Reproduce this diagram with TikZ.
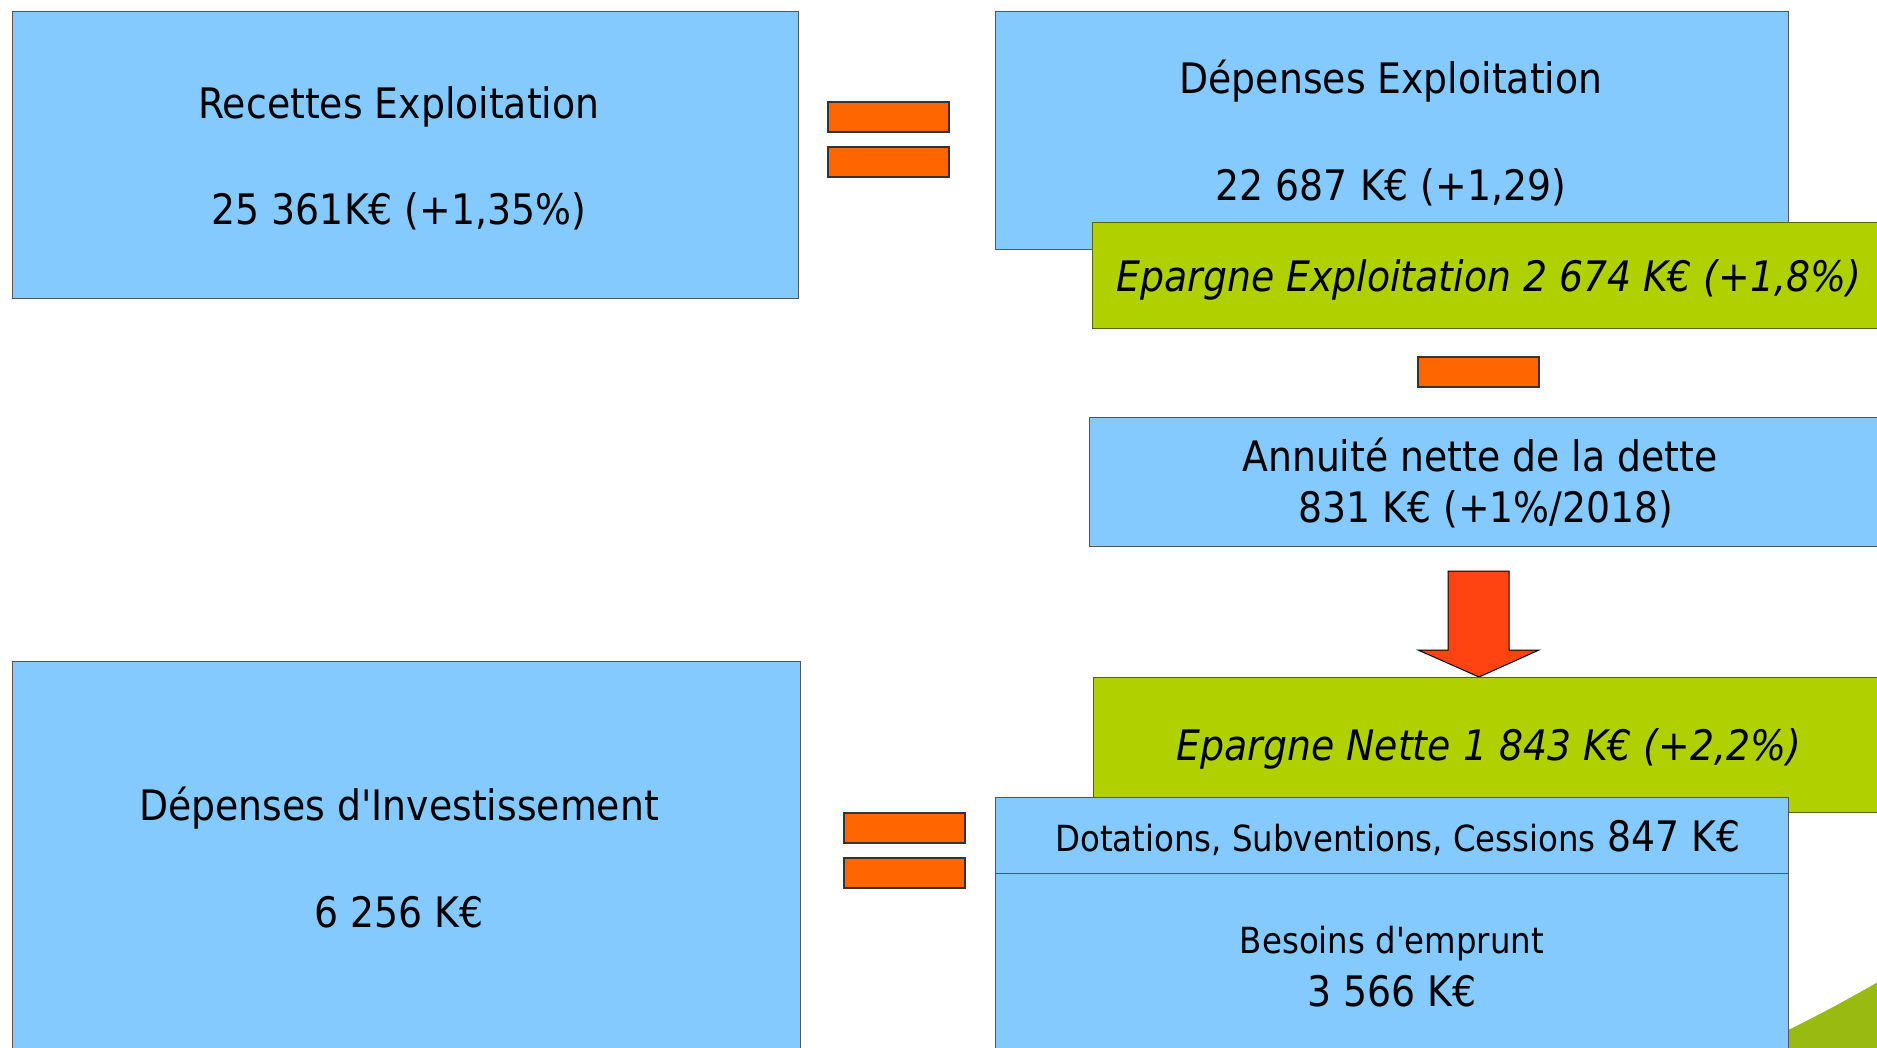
\documentclass[tikz,border=0pt]{standalone}
\usepackage{fontspec}
\setmainfont{DejaVu Sans Condensed}
\definecolor{skyb}{HTML}{84CAFF}
\definecolor{lime}{HTML}{B0D000}
\definecolor{deco}{HTML}{99BB11}
\definecolor{eqor}{HTML}{FF6600}
\definecolor{arr}{HTML}{FF4411}
\definecolor{edge}{HTML}{555555}
\definecolor{gedge}{HTML}{556600}
\newcommand{\bigf}{\fontsize{21pt}{25pt}\selectfont}
\newcommand{\smf}{\fontsize{18pt}{22pt}\selectfont}
\begin{document}
\begin{tikzpicture}[x=0.5pt,y=-0.5pt,
  bluebox/.style={draw=edge,fill=skyb,line width=0.5pt,inner sep=0pt,rectangle},
  greenbox/.style={draw=gedge,fill=lime,line width=0.5pt,inner sep=0pt,rectangle},
  bar/.style={draw=black!80,fill=eqor,line width=0.6pt,inner sep=0pt,rectangle,minimum width=60.5pt,minimum height=15pt},
  txt/.style={inner sep=0pt,font=\bigf,text=black},
  stxt/.style={inner sep=0pt,font=\smf,text=black}]
\useasboundingbox (0,0) rectangle (1877,1048);
\clip (0,0) rectangle (1877,1048);
\fill[white] (0,0) rectangle (1877,1048);
% decorative swoosh
\fill[deco] (1700,1070) .. controls (1780,1036) and (1830,1010) .. (1890,975) -- (1890,1070) -- cycle;
% top-left box
\node[bluebox,minimum width=393pt,minimum height=143pt] (rec) at (405,155) {};
\node[txt] (t1) at (399,107) {Recettes Exploitation};
\node[txt] (t2) at (399,211) {25 361K€ (+1,35\%)};
% equals top
\node[bar] (e1) at (888.5,117) {};
\node[bar] (e2) at (888.5,162) {};
% depenses exploitation
\node[bluebox,minimum width=396.5pt,minimum height=118.5pt] (dep) at (1391.5,130.5) {};
\node[txt] (t3) at (1391,81) {Dépenses Exploitation};
\node[txt] (t4) at (1391,187) {22 687 K€ (+1,29)};
% epargne exploitation
\node[greenbox,minimum width=404pt,minimum height=52.5pt] (ee) at (1496,275.5) {};
\node[txt,font=\bigf\itshape] (t5) at (1489,280) {Epargne Exploitation 2 674 K€ (+1,8\%)};
% minus
\node[bar] (m1) at (1478.5,372) {};
% annuite
\node[bluebox,minimum width=405.5pt,minimum height=64.5pt] (ann) at (1494.5,481.5) {};
\node[txt] (t6) at (1480,455) {Annuité nette de la dette};
\node[txt] (t7) at (1486,509) {831 K€ (+1\%/2018)};
% arrow
\draw[draw=black,fill=arr,line width=0.5pt,line join=miter]
  (1448,571) -- (1509,571) -- (1509,650) -- (1539,650) -- (1479,677) -- (1418,650) -- (1448,650) -- cycle;
% epargne nette
\node[greenbox,minimum width=403.5pt,minimum height=67.5pt] (en) at (1496.5,744.5) {};
\node[txt,font=\bigf\itshape] (t8) at (1489,749) {Epargne Nette 1 843 K€ (+2,2\%)};
% dotations and besoins
\node[bluebox,minimum width=396.5pt,minimum height=93.5pt] (bes) at (1391.5,966.5) {};
\node[bluebox,minimum width=396.5pt,minimum height=38pt] (dot) at (1391.5,835) {};
\node[txt] (t9) at (1398,838) {{\smf Dotations, Subventions, Cessions} 847 K€};
\node[stxt] (t10) at (1392,944) {Besoins d\textquotesingle emprunt};
\node[txt] (t11) at (1392,991) {3 566 K€};
% depenses investissement
\node[bluebox,minimum width=394pt,minimum height=199.5pt] (di) at (406,860.5) {};
\node[txt] (t12) at (399,808) {Dépenses d\textquotesingle Investissement};
\node[txt] (t13) at (399,912) {6 256 K€};
% equals bottom
\node[bar] (e3) at (904.5,828) {};
\node[bar] (e4) at (904.5,873) {};
\end{tikzpicture}
\end{document}
